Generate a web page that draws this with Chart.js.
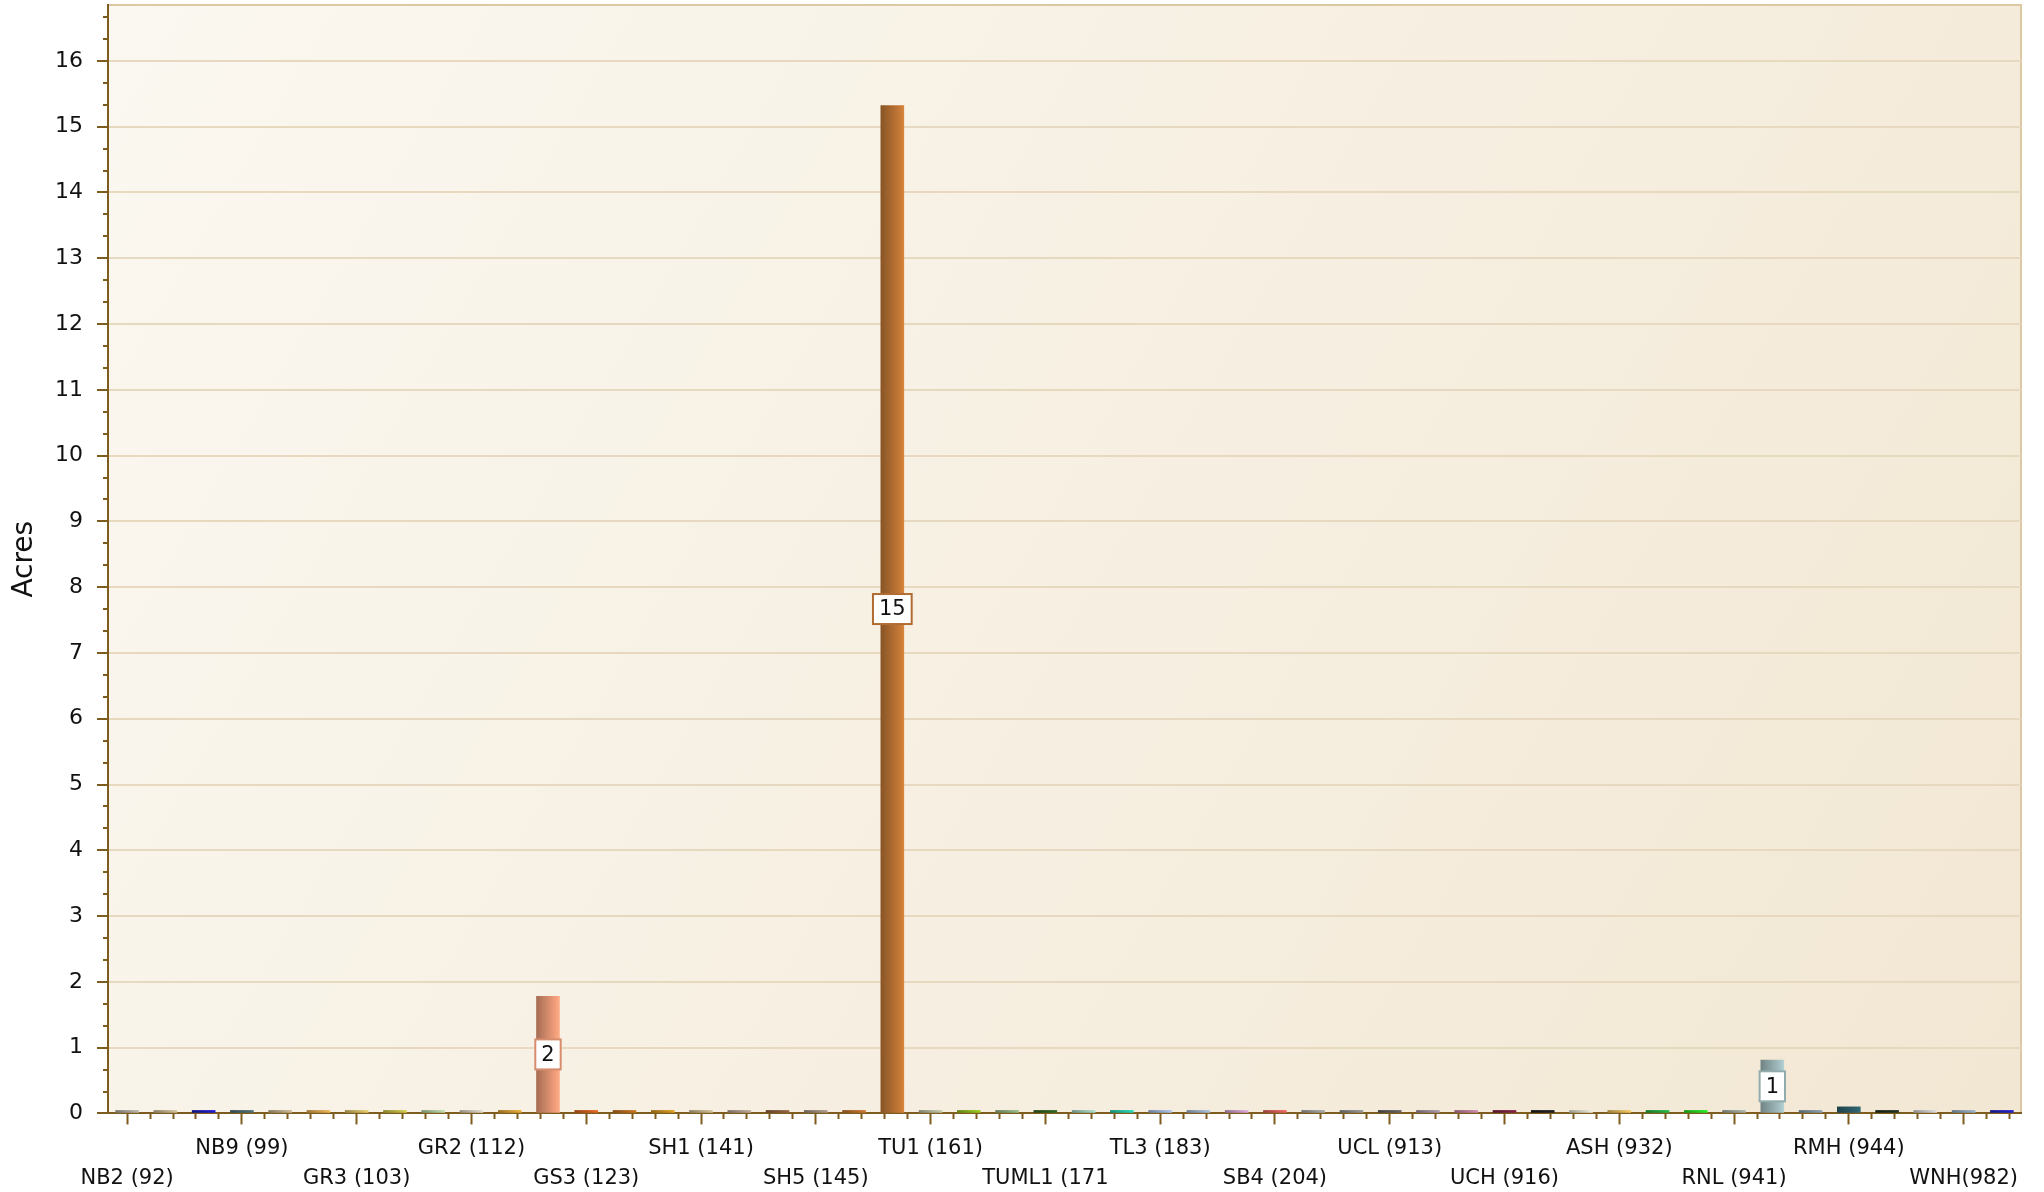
<!DOCTYPE html>
<html>
<head>
<meta charset="utf-8">
<title>Acres</title>
<script src="https://cdn.jsdelivr.net/npm/chart.js@4.4.1/dist/chart.umd.min.js"></script>
<style>
  html, body { margin: 0; padding: 0; background: #fff; overflow: hidden; }
  #wrap { width: 2044px; height: 1201px; margin-top: -9px; }
</style>
</head>
<body>
<div id="wrap"><canvas id="acresChart"></canvas></div>
<script>
// fuel model categories, only every third one is named on the axis
const categories = [
  'NB2 (92)', '', '', 'NB9 (99)', '', '', 'GR3 (103)', '', '', 'GR2 (112)',
  '', '', 'GS3 (123)', '', '', 'SH1 (141)', '', '', 'SH5 (145)', '',
  '', 'TU1 (161)', '', '', 'TUML1 (171', '', '', 'TL3 (183)', '', '',
  'SB4 (204)', '', '', 'UCL (913)', '', '', 'UCH (916)', '', '', 'ASH (932)',
  '', '', 'RNL (941)', '', '', 'RMH (944)', '', '', 'WNH(982)', ''
];

const acres = [
  0, 0, 0, 0, 0, 0, 0, 0, 0, 0,
  0, 1.78, 0, 0, 0, 0, 0, 0, 0, 0,
  15.32, 0, 0, 0, 0, 0, 0, 0, 0, 0,
  0, 0, 0, 0, 0, 0, 0, 0, 0, 0,
  0, 0, 0, 0.81, 0, 0.1, 0, 0, 0, 0
];

const barColors = [
  '#b3aca5', '#c9b994', '#1c1cc4', '#4b6b72', '#c2b08e', '#e4ad52', '#dcc468', '#c9c247', '#b4d2a4', '#d8cfc0',
  '#e0a434', '#f4a07c', '#d9621f', '#c0701f', '#d49420', '#c9b890', '#b3a291', '#8e6040', '#a39282', '#c2722e',
  '#c87b38', '#b9c1a3', '#8fc21c', '#8fb383', '#2f6122', '#a3d3c3', '#1fcfae', '#a3bbe3', '#a2b9d2', '#d2a2d2',
  '#e2615f', '#a2a2a2', '#8f8f8f', '#5f5f5f', '#a292a2', '#c383a3', '#7f1f42', '#1f1f1f', '#e2e2d2', '#e8c060',
  '#22b042', '#22e022', '#a2aaa2', '#a6c2c4', '#8199a9', '#2e616d', '#1f301f', '#d2d2d2', '#92aac2', '#2020c2'
];

const yMax = 16.85;
const axisColor = '#7d5c1e';
const fontFamily = '"DejaVu Sans", Verdana, sans-serif';

function shade(hex, f) {
  const n = parseInt(hex.slice(1), 16);
  const c = [(n >> 16) & 255, (n >> 8) & 255, n & 255].map(v => Math.max(0, Math.min(255, Math.round(v * f))));
  return 'rgb(' + c.join(',') + ')';
}

function isWhole(v) {
  return Math.abs(v - Math.round(v)) < 1e-6;
}

function barFill(ctx) {
  const base = barColors[ctx.dataIndex];
  const chart = ctx.chart;
  const x = chart.scales.x;
  if (!x || !chart.chartArea) return base;
  const c = x.getPixelForValue(ctx.dataIndex);
  const half = (x.getPixelForValue(0.6) - x.getPixelForValue(0)) / 2;
  const g = chart.ctx.createLinearGradient(c - half, 0, c + half, 0);
  g.addColorStop(0, shade(base, 0.68));
  g.addColorStop(0.85, base);
  g.addColorStop(1, shade(base, 1.08));
  return g;
}

const plotBackground = {
  id: 'plotBackground',
  beforeDraw(chart) {
    const { ctx, chartArea: a } = chart;
    ctx.save();
    const g = ctx.createLinearGradient(a.left, a.top, a.right, a.bottom);
    g.addColorStop(0, '#fbf8f1');
    g.addColorStop(1, '#f2e7d3');
    ctx.fillStyle = g;
    ctx.fillRect(a.left, a.top, a.right - a.left, a.bottom - a.top);
    ctx.strokeStyle = '#dcc9a3';
    ctx.lineWidth = 2;
    ctx.beginPath();
    ctx.moveTo(a.left, a.top);
    ctx.lineTo(a.right, a.top);
    ctx.lineTo(a.right, a.bottom);
    ctx.stroke();
    ctx.restore();
  }
};

const valueBoxes = {
  id: 'valueBoxes',
  afterDraw(chart) {
    const ctx = chart.ctx;
    const meta = chart.getDatasetMeta(0);
    ctx.save();
    ctx.font = '21px ' + fontFamily;
    ctx.textAlign = 'center';
    ctx.textBaseline = 'middle';
    meta.data.forEach((bar, i) => {
      const v = Math.round(acres[i]);
      if (v < 1) return;
      const txt = String(v);
      const w = ctx.measureText(txt).width + 12;
      const h = 30;
      const cy = (bar.y + bar.base) / 2;
      ctx.fillStyle = '#ffffff';
      ctx.fillRect(bar.x - w / 2, cy - h / 2, w, h);
      ctx.lineWidth = 2;
      ctx.strokeStyle = shade(barColors[i], 0.88);
      ctx.strokeRect(bar.x - w / 2, cy - h / 2, w, h);
      ctx.fillStyle = '#111';
      ctx.fillText(txt, bar.x, cy + 1);
    });
    ctx.restore();
  }
};

new Chart('acresChart', {
  type: 'bar',
  data: {
    datasets: [{
      label: 'Acres',
      data: acres.map((v, i) => ({ x: i, y: v })),
      backgroundColor: barFill,
      borderWidth: 0,
      categoryPercentage: 1,
      barPercentage: 1,
      minBarLength: 3,
      clip: false
    }]
  },
  options: {
    responsive: true,
    maintainAspectRatio: false,
    animation: false,
    layout: { padding: { top: 0, right: 23, bottom: -10.5, left: 0 } },
    plugins: {
      legend: { display: false },
      tooltip: { enabled: false }
    },
    scales: {
      x: {
        type: 'linear',
        offset: false,
        z: 1,
        min: -0.5,
        max: categories.length - 0.5,
        border: { color: axisColor, width: 2 },
        grid: {
          offset: false,
          drawOnChartArea: false,
          tickLength: 11,
          tickColor: axisColor,
          tickWidth: 2,
          tickBorderDash: (ctx) => (ctx.tick && isWhole(ctx.tick.value) && Math.round(ctx.tick.value) % 3 === 0) ? [] : [5, 100]
        },
        ticks: {
          stepSize: 0.6,
          includeBounds: false,
          autoSkip: false,
          maxRotation: 0,
          minRotation: 0,
          padding: 9,
          color: '#111',
          font: { family: fontFamily, size: 21, lineHeight: 1.43 },
          callback: (value) => {
            if (!isWhole(value)) return [];
            const i = Math.round(value);
            if (i % 3 !== 0 || !categories[i]) return [];
            return (i / 3) % 2 === 0 ? ['', categories[i]] : [categories[i]];
          }
        }
      },
      y: {
        min: 0,
        max: yMax,
        border: { color: axisColor, width: 2 },
        grid: {
          color: (ctx) => (ctx.tick && isWhole(ctx.tick.value)) ? '#e6d9bf' : 'rgba(0,0,0,0)',
          lineWidth: 2,
          tickLength: 11,
          tickColor: axisColor,
          tickWidth: 2,
          tickBorderDash: (ctx) => (ctx.tick && isWhole(ctx.tick.value)) ? [] : [0, 6, 5, 100]
        },
        ticks: {
          stepSize: 1 / 3,
          includeBounds: false,
          autoSkip: false,
          padding: 14,
          color: '#111',
          font: { family: fontFamily, size: 22 },
          callback: (value) => isWhole(value) ? String(Math.round(value)) : []
        },
        title: {
          display: true,
          text: 'Acres',
          color: '#111',
          font: { family: fontFamily, size: 28, lineHeight: 1 },
          padding: { top: 11, bottom: 2 }
        }
      }
    }
  },
  plugins: [plotBackground, valueBoxes]
});
</script>
</body>
</html>
